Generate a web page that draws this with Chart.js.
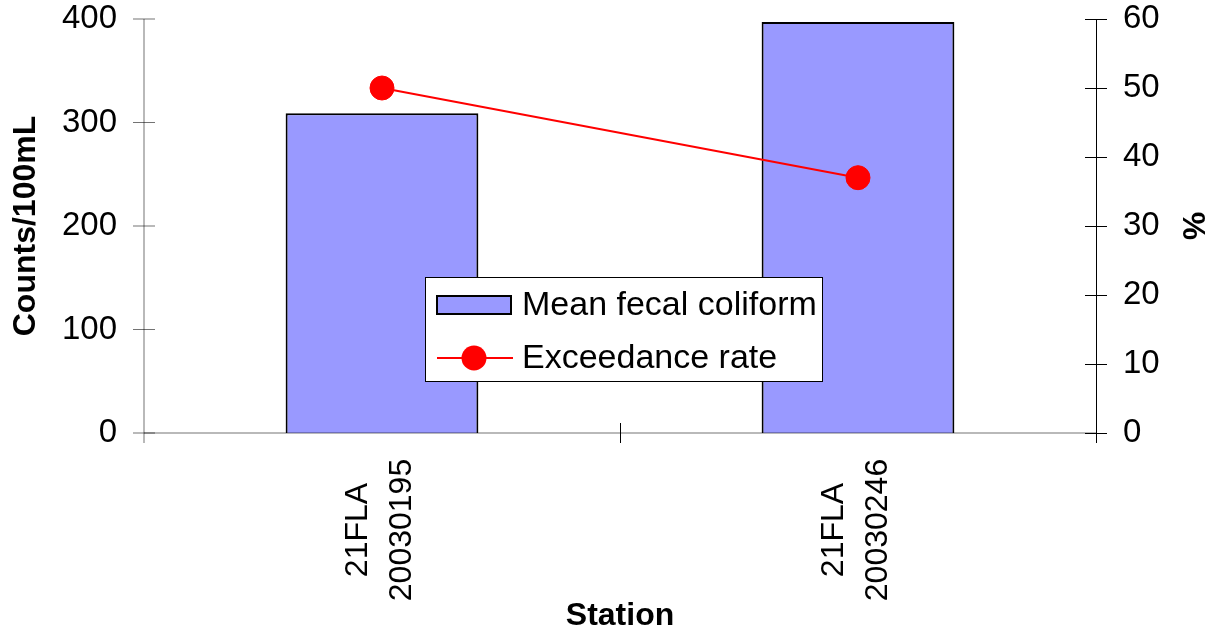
<!DOCTYPE html>
<html>
<head>
<meta charset="utf-8">
<script src="https://cdn.jsdelivr.net/npm/chart.js@4"></script>
<style>
  html, body { margin: 0; padding: 0; background: #fff; }
  #c { display: block; }
</style>
</head>
<body>
<canvas id="c" width="1212" height="632"></canvas>
<script>
// ---- data ----
const stations = [["21FLA", "20030195"], ["21FLA", "20030246"]];
const meanFecalColiform = [309, 397];
const exceedanceRate = [50, 37];
const leftTicks = [0, 100, 200, 300, 400];
const rightTicks = [0, 10, 20, 30, 40, 50, 60];
const seriesNames = ["Mean fecal coliform", "Exceedance rate"];
const axisTitles = { x: "Station", y: "Counts/100mL", y1: "%" };

const FAMILY = '"Liberation Sans", Arial, sans-serif';

const axesPlugin = {
  id: 'axesPlugin',
  afterDraw(chart) {
    const ctx = chart.ctx;
    const ca = chart.chartArea;
    const x = chart.scales.x, y = chart.scales.y, y1 = chart.scales.y1;
    ctx.save();
    // left axis (gray-ish 2px look)
    ctx.strokeStyle = '#000';
    ctx.lineWidth = 1;
    ctx.globalAlpha = 0.55;
    ctx.beginPath();
    ctx.moveTo(ca.left, ca.top);
    ctx.lineTo(ca.left, ca.bottom + 10);
    leftTicks.forEach(v => {
      const py = y.getPixelForValue(v);
      ctx.moveTo(ca.left - 11, py);
      ctx.lineTo(ca.left + 11, py);
    });
    // x axis line
    ctx.moveTo(ca.left, ca.bottom);
    ctx.lineTo(ca.right, ca.bottom);
    ctx.stroke();
    ctx.globalAlpha = 1;
    // right axis
    ctx.beginPath();
    ctx.moveTo(ca.right + 0.5, ca.top);
    ctx.lineTo(ca.right + 0.5, ca.bottom + 10);
    rightTicks.forEach(v => {
      const py = Math.round(y1.getPixelForValue(v)) + 0.5;
      ctx.moveTo(ca.right - 11, py);
      ctx.lineTo(ca.right + 11, py);
    });
    // category boundary tick in the middle
    const mid = (x.getPixelForTick(0) + x.getPixelForTick(1)) / 2;
    ctx.moveTo(Math.round(mid) + 0.5, ca.bottom - 10);
    ctx.lineTo(Math.round(mid) + 0.5, ca.bottom + 10);
    ctx.stroke();

    // x tick labels (rotated, two lines, centered)
    ctx.fillStyle = '#000';
    ctx.font = '32px ' + FAMILY;
    ctx.textAlign = 'center';
    ctx.textBaseline = 'middle';
    stations.forEach((lines, i) => {
      const px = x.getPixelForTick(i);
      ctx.save();
      ctx.translate(px, ca.bottom + 97);
      ctx.rotate(-Math.PI / 2);
      lines.forEach((ln, j) => {
        const off = (j - (lines.length - 1) / 2) * 44;
        ctx.fillText(ln, 0, off - 2);
      });
      ctx.restore();
    });

    // legend
    const lx = ca.left + 281, ly = ca.top + 258, lw = 397, lh = 104;
    ctx.fillStyle = '#fff';
    ctx.fillRect(lx, ly, lw, lh);
    ctx.strokeStyle = '#000';
    ctx.lineWidth = 1;
    ctx.strokeRect(lx + 0.5, ly + 0.5, lw, lh);
    // item 1
    ctx.fillStyle = '#9999FF';
    ctx.fillRect(lx + 12, ly + 19, 74, 18);
    ctx.lineWidth = 2;
    ctx.strokeRect(lx + 12, ly + 19, 74, 18);
    ctx.fillStyle = '#000';
    ctx.font = '34px ' + FAMILY;
    ctx.textAlign = 'left';
    ctx.textBaseline = 'middle';
    ctx.fillText(seriesNames[0], lx + 97, ly + 29);
    // item 2
    ctx.strokeStyle = '#FF0000';
    ctx.lineWidth = 2;
    ctx.beginPath();
    ctx.moveTo(lx + 12, ly + 81);
    ctx.lineTo(lx + 88, ly + 81);
    ctx.stroke();
    ctx.fillStyle = '#FF0000';
    ctx.beginPath();
    ctx.arc(lx + 49, ly + 81, 12.5, 0, Math.PI * 2);
    ctx.fill();
    ctx.fillStyle = '#000';
    ctx.fillText(seriesNames[1], lx + 97, ly + 82);
    ctx.restore();
  }
};

new Chart(document.getElementById('c'), {
  data: {
    labels: stations,
    datasets: [
      {
        type: 'line',
        label: seriesNames[1],
        data: exceedanceRate,
        yAxisID: 'y1',
        borderColor: '#FF0000',
        borderWidth: 2,
        pointRadius: 12,
        pointBorderWidth: 1,
        pointBackgroundColor: '#FF0000',
        pointBorderColor: '#FF0000',
        tension: 0,
        order: 0
      },
      {
        type: 'bar',
        label: seriesNames[0],
        data: meanFecalColiform,
        yAxisID: 'y',
        backgroundColor: '#9999FF',
        borderColor: '#000000',
        borderWidth: 2,
        barPercentage: 0.405,
        categoryPercentage: 1,
        order: 1
      }
    ]
  },
  options: {
    responsive: false,
    animation: false,
    events: [],
    layout: { padding: { top: 19, left: 0, right: 0, bottom: 0 } },
    plugins: { legend: { display: false }, tooltip: { enabled: false } },
    scales: {
      x: {
        type: 'category',
        position: 'bottom',
        grid: { display: false, drawTicks: false },
        border: { display: false },
        ticks: { display: false },
        title: {
          display: true, text: axisTitles.x, color: '#000',
          font: { family: FAMILY, size: 32, weight: 'bold', lineHeight: 1 },
          padding: { top: 0, bottom: 0 }
        },
        afterFit(s) { s.height = 199; }
      },
      y: {
        position: 'left',
        min: 0, max: 400,
        afterBuildTicks(s) { s.ticks = leftTicks.map(v => ({ value: v })); },
        grid: { display: false, drawTicks: true, tickLength: 27 },
        border: { display: false },
        ticks: { color: '#000', padding: 0, font: { family: FAMILY, size: 33, lineHeight: 1 } },
        title: {
          display: true, text: axisTitles.y, color: '#000',
          font: { family: FAMILY, size: 32, weight: 'bold', lineHeight: 1 },
          padding: { top: 10, bottom: 0 }
        },
        afterFit(s) { s.width = 144; }
      },
      y1: {
        position: 'right',
        min: 0, max: 60,
        afterBuildTicks(s) { s.ticks = rightTicks.map(v => ({ value: v })); },
        grid: { display: false, drawTicks: true, tickLength: 27 },
        border: { display: false },
        ticks: { color: '#000', padding: 0, font: { family: FAMILY, size: 33, lineHeight: 1 } },
        title: {
          display: true, text: axisTitles.y1, color: '#000',
          font: { family: FAMILY, size: 32, weight: 'bold', lineHeight: 1 },
          padding: { top: 4, bottom: 0 }
        },
        afterFit(s) { s.width = 116; }
      }
    }
  },
  plugins: [axesPlugin]
});
</script>
</body>
</html>
